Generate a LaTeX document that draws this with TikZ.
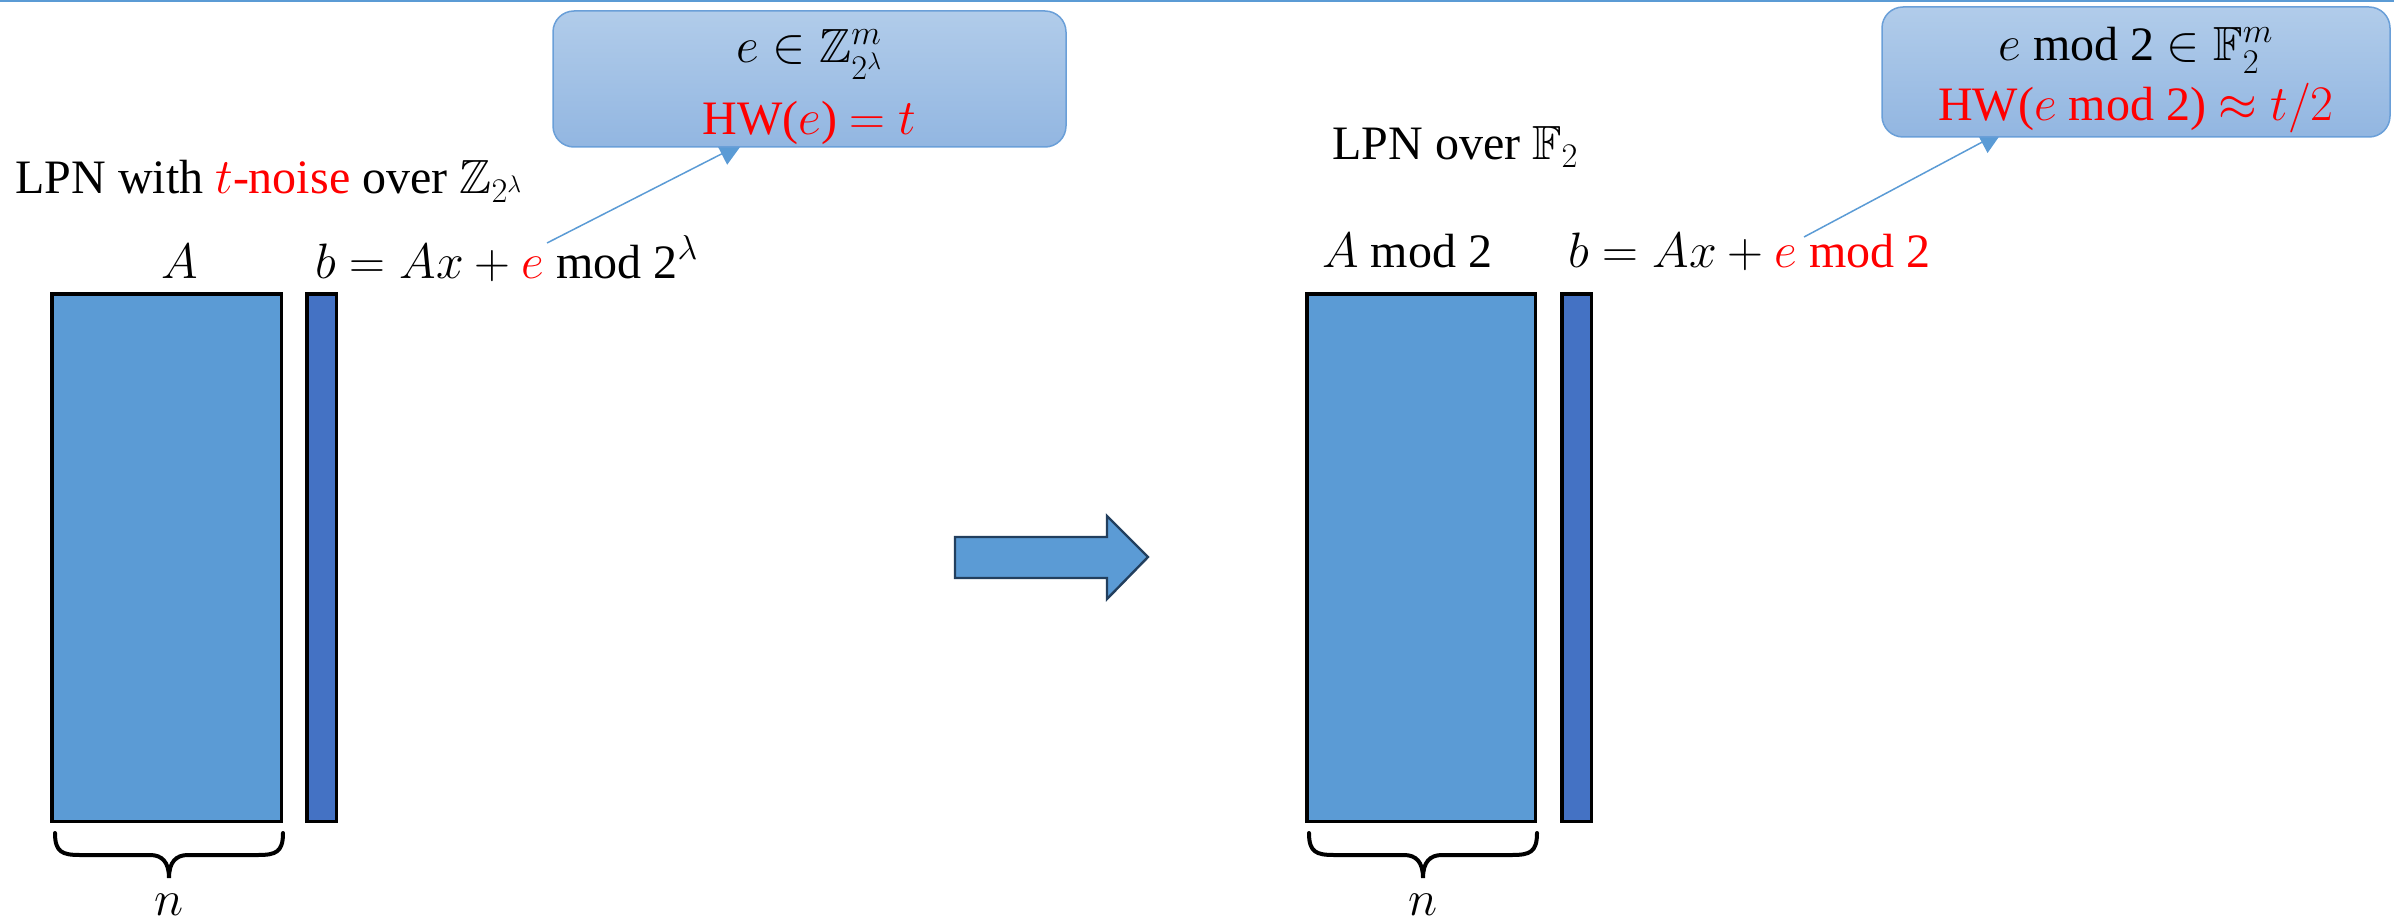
\documentclass[tikz,border=0pt]{standalone}
\usepackage{amssymb}
\usepackage{fontspec}
\setmainfont{Liberation Serif}
\usetikzlibrary{arrows.meta}
\definecolor{matblue}{HTML}{5B9BD5}
\definecolor{vecblue}{HTML}{4472C4}
\definecolor{arrowedge}{HTML}{223F5E}
\definecolor{callouttop}{HTML}{B1CCEA}
\definecolor{calloutbot}{HTML}{92B6E1}
\definecolor{calloutedge}{HTML}{6A9FD8}
\begin{document}
\begin{tikzpicture}[x=0.5pt,y=-0.5pt,
  txt/.style={font=\fontsize{24pt}{29pt}\selectfont, inner sep=0pt},
  bigmat/.style={draw=black, line width=1.75pt, fill=matblue},
  vecmat/.style={draw=black, line width=1.75pt, fill=vecblue},
  callout/.style={rounded corners=10.5pt, draw=calloutedge, line width=0.75pt,
    top color=callouttop, bottom color=calloutbot, align=center, inner sep=0pt},
  pointer/.style={draw=matblue, line width=0.75pt, -{Triangle[length=12pt,width=12pt]}},
  bracestroke/.style={line width=2pt, line cap=round},
  bigarrow/.style={draw=arrowedge, line width=1.2pt, fill=matblue, line join=miter},
  pics/nbrace/.style={code={
    \draw[bracestroke] (0,0) .. controls (0,19) and (7,22) .. (25,22) -- (95,22)
      .. controls (107,22) and (114,29) .. (114,45)
      .. controls (114,29) and (121,22) .. (133,22) -- (203,22)
      .. controls (221,22) and (228,19) .. (228,0);
  }}
]
\useasboundingbox (0,0) rectangle (2394,920);
% top rule
\draw[matblue, line width=0.75pt] (0,1) -- (2394,1);

% ---- left panel ----
\node[txt, anchor=base west] (lpn1) at (15,193) {LPN with \textcolor{red}{$t$-noise} over $\mathbb{Z}_{2^{\lambda}}$};
\node[txt, anchor=base] (A1) at (180,278) {$A$};
\node[txt, anchor=base west] (b1) at (315,278) {$b = Ax + {\color{red}e}$ mod 2$^{\lambda}$};
\node[bigmat, minimum width=114.75pt, minimum height=263.75pt, inner sep=0pt] (M1) at (166.5,557.5) {};
\node[vecmat, minimum width=14.75pt, minimum height=263.75pt, inner sep=0pt] (V1) at (321.5,557.5) {};
\pic at (55,833) {nbrace};
\node[txt, anchor=base] (n1) at (169,915) {$n$};

% ---- right panel ----
\node[txt, anchor=base west] (lpn2) at (1332,160) {LPN over $\mathbb{F}_2$};
\node[txt, anchor=base west] (A2) at (1322,267) {$A$ mod 2};
\node[txt, anchor=base west] (b2) at (1568,267) {$b = Ax + {}$\textcolor{red}{$e$ mod 2}};
\node[bigmat, minimum width=114.25pt, minimum height=263.75pt, inner sep=0pt] (M2) at (1421,557.5) {};
\node[vecmat, minimum width=14.75pt, minimum height=263.75pt, inner sep=0pt] (V2) at (1576.5,557.5) {};
\pic at (1309,833) {nbrace};
\node[txt, anchor=base] (n2) at (1423,915) {$n$};

% ---- big arrow ----
\draw[bigarrow] (955,537) -- (1107,537) -- (1107,516) -- (1148,557) -- (1107,599) -- (1107,578) -- (955,578) -- cycle;

% ---- pointers (drawn under the callouts) ----
\coordinate (p1s) at (547,243);
\coordinate (p1e) at (743,143);
\coordinate (p2s) at (1804,237);
\coordinate (p2e) at (2003,131);
\draw[pointer] (p1s) -- (p1e);
\draw[pointer] (p2s) -- (p2e);

% ---- callouts ----
\node[callout, minimum width=256.5pt, minimum height=68pt,
      font=\fontsize{24pt}{36pt}\selectfont] (box1) at (809.5,79)
  {\rule{0pt}{25pt}$e \in \mathbb{Z}^{m}_{2^{\lambda}}$\\
   \textcolor{red}{HW($e$) $= t$}};

\node[callout, minimum width=254pt, minimum height=65pt,
      font=\fontsize{24pt}{30pt}\selectfont] (box2) at (2136,72)
  {\rule{0pt}{25pt}$e$ mod 2 $\in \mathbb{F}_2^{m}$\\
   \textcolor{red}{HW($e$ mod 2) $\approx t/2$}};
\end{tikzpicture}
\end{document}
